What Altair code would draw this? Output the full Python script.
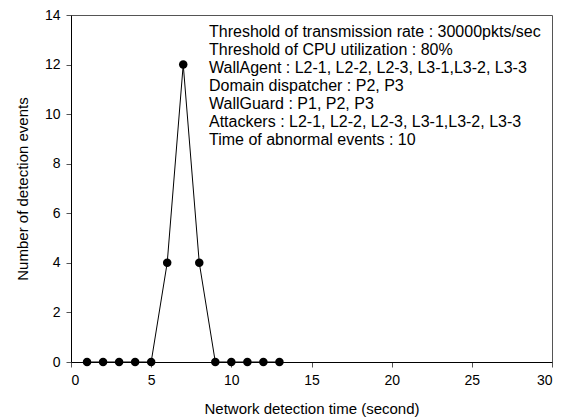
import altair as alt
import pandas as pd

time_s = [1, 2, 3, 4, 5, 6, 7, 8, 9, 10, 11, 12, 13]
events = [0, 0, 0, 0, 0, 4, 12, 4, 0, 0, 0, 0, 0]
notes = [
    "Threshold of transmission rate : 30000pkts/sec",
    "Threshold of CPU utilization : 80%",
    "WallAgent : L2-1, L2-2, L2-3, L3-1,L3-2, L3-3",
    "Domain dispatcher : P2, P3",
    "WallGuard : P1, P2, P3",
    "Attackers : L2-1, L2-2, L2-3, L3-1,L3-2, L3-3",
    "Time of abnormal events : 10",
]

df = pd.DataFrame({"t": time_s, "n": events})
FONT = "Liberation Sans"

x = alt.X("t:Q", scale=alt.Scale(domain=[0, 30], nice=False),
          axis=alt.Axis(values=[0, 5, 10, 15, 20, 25, 30], title="Network detection time (second)",
                        titlePadding=14))
y = alt.Y("n:Q", scale=alt.Scale(domain=[0, 14], nice=False),
          axis=alt.Axis(values=[0, 2, 4, 6, 8, 10, 12, 14], title="Number of detection events",
                        titlePadding=14))

line = alt.Chart(df).mark_line(color="black", strokeWidth=1).encode(x=x, y=y)
pts = alt.Chart(df).mark_circle(color="black", size=72, opacity=1).encode(x=x, y=y)
txt = alt.Chart(pd.DataFrame({"a": [0]})).mark_text(
    text=notes, align="left", baseline="top", fontSize=16, lineHeight=18,
    font=FONT, color="black"
).encode(x=alt.value(138), y=alt.value(9))

chart = (line + pts + txt).properties(
    width=481, height=347,
    autosize=alt.AutoSizeParams(type="none"),
    padding={"left": 63, "top": 7, "right": 2, "bottom": 58},
).configure_view(stroke="#555555", strokeWidth=1).configure_axis(
    domainColor="black", tickColor="#555555", tickSize=5, grid=False,
    labelFont=FONT, labelFontSize=14, labelColor="black",
    titleFont=FONT, titleFontSize=15, titleFontWeight="normal", titleColor="black",
    labelPadding=6,
)

chart.save("out.html", embed_options={"renderer": "svg", "actions": False})
